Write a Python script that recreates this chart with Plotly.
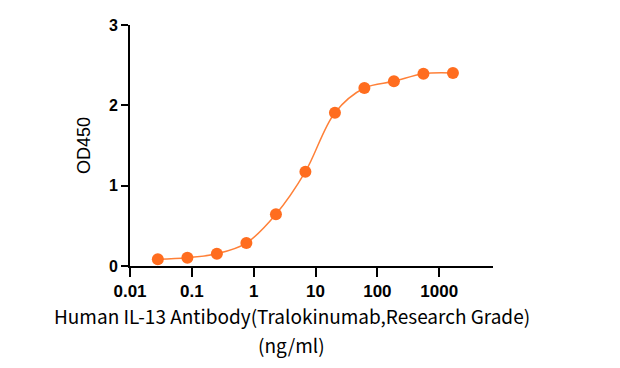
import plotly.graph_objects as go

concentration = [0.0282, 0.0847, 0.254, 0.762, 2.29, 6.86, 20.6, 61.7, 185.2, 555.6, 1666.7]
od450 = [0.083, 0.103, 0.153, 0.286, 0.644, 1.174, 1.908, 2.216, 2.299, 2.394, 2.403]

x_ticks = [0.01, 0.1, 1, 10, 100, 1000]
x_ticktext = ["0.01", "0.1", "1", "10", "100", "1000"]
y_ticks = [0, 1, 2, 3]

orange = "#FF6D1F"

fig = go.Figure()
fig.add_trace(go.Scatter(
    x=concentration, y=od450, mode="lines",
    line=dict(color="#FF8038", width=1.5, shape="spline", smoothing=1.0),
    hoverinfo="skip", showlegend=False, cliponaxis=False,
))
fig.add_trace(go.Scatter(
    x=concentration, y=od450, mode="markers",
    marker=dict(color=orange, size=12, line=dict(width=0)),
    showlegend=False, cliponaxis=False,
))

fig.update_layout(
    width=620, height=368,
    margin=dict(l=122, r=135, t=17, b=110, autoexpand=False),
    paper_bgcolor="white", plot_bgcolor="white",
    xaxis=dict(
        type="log", range=[-2, 3.87],
        tickvals=x_ticks, ticktext=x_ticktext,
        ticks="outside", ticklen=9, tickwidth=2, tickcolor="black",
        showline=True, linewidth=2, linecolor="black",
        showgrid=False, zeroline=False, automargin=False,
        tickfont=dict(family="Liberation Sans, Arial, sans-serif", size=17, color="black", weight="bold"),
    ),
    yaxis=dict(
        range=[0, 3],
        tickvals=y_ticks,
        ticks="outside", ticklen=7, tickwidth=2, tickcolor="black",
        showline=True, linewidth=2, linecolor="black",
        showgrid=False, zeroline=False, automargin=False,
        tickfont=dict(family="Liberation Sans, Arial, sans-serif", size=16, color="black", weight="bold"),
        title=dict(text="OD450", font=dict(family="Liberation Sans, Arial, sans-serif", size=18, color="black"), standoff=14),
    ),
    annotations=[
        dict(
            text="Human IL-13 Antibody(Tralokinumab,Research Grade)",
            xref="paper", yref="paper", x=0.446, y=-0.14, xanchor="center", yanchor="top",
            showarrow=False,
            font=dict(family="Noto Sans CJK SC, Noto Sans, sans-serif", size=19, color="black"),
        ),
        dict(
            text="(ng/ml)",
            xref="paper", yref="paper", x=0.446, y=-0.26, xanchor="center", yanchor="top",
            showarrow=False,
            font=dict(family="Noto Sans CJK SC, Noto Sans, sans-serif", size=19, color="black"),
        ),
    ],
)

fig.write_html("out.html")
